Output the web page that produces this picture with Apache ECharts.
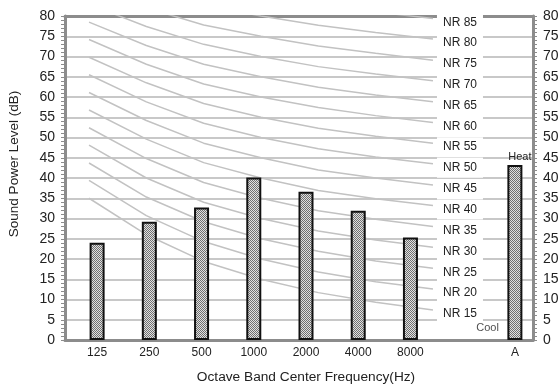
<!DOCTYPE html>
<html>
<head>
<meta charset="utf-8">
<script src="https://cdn.jsdelivr.net/npm/echarts@6/dist/echarts.min.js"></script>
<style>
  html, body { margin: 0; padding: 0; background: #fff; }
  #main { width: 558px; height: 385px; }
</style>
</head>
<body>
<div id="main"></div>
<script>
// bars
const categories = ['125', '250', '500', '1000', '2000', '4000', '8000', '', 'A'];
const barValues = [24.0, 29.2, 32.7, 40.1, 36.6, 31.9, 25.3, null, 43.2];
const yTicks = [0, 80, 5]; // min, max, step

// NR curves, values at 125..8000 Hz
const nrBands = [0, 1, 2, 3, 4, 5, 6];
const nr15 = [35.0, 26.0, 19.4, 15, 11.7, 9.3, 7.4];
const nr20 = [39.4, 30.7, 24.3, 20, 16.8, 14.4, 12.6];
const nr25 = [43.7, 35.3, 29.2, 25, 21.9, 19.5, 17.7];
const nr30 = [48.1, 40.0, 34.0, 30, 26.9, 24.7, 22.9];
const nr35 = [52.4, 44.8, 38.9, 35, 31.9, 29.8, 28.0];
const nr40 = [56.8, 49.6, 43.8, 40, 36.9, 34.9, 33.2];
const nr45 = [61.1, 54.2, 48.6, 45, 42.0, 40.0, 38.3];
const nr50 = [65.5, 58.8, 53.5, 50, 47.2, 45.2, 43.5];
const nr55 = [69.8, 63.5, 58.4, 55, 52.3, 50.3, 48.6];
const nr60 = [74.2, 68.1, 63.2, 60, 57.4, 55.4, 53.7];
const nr65 = [78.5, 72.7, 68.1, 65, 62.4, 60.5, 58.8];
const nr70 = [82.9, 77.4, 73.0, 70, 67.5, 65.7, 64.0];
const nr75 = [87.2, 82.0, 77.8, 75, 72.6, 70.8, 69.1];
const nr80 = [91.6, 86.7, 82.7, 80, 77.7, 75.9, 74.3];
const nr85 = [95.9, 91.3, 87.6, 85, 82.7, 81.0, 79.4];
const nrNames = ['NR 15', 'NR 20', 'NR 25', 'NR 30', 'NR 35', 'NR 40', 'NR 45', 'NR 50',
  'NR 55', 'NR 60', 'NR 65', 'NR 70', 'NR 75', 'NR 80', 'NR 85'];
const nrValues = [nr15, nr20, nr25, nr30, nr35, nr40, nr45, nr50, nr55, nr60, nr65, nr70, nr75, nr80, nr85];

// hatch fill for bars
function hatch() {
  const c = document.createElement('canvas');
  c.width = 4; c.height = 4;
  const g = c.getContext('2d');
  g.fillStyle = '#e0e0e0';
  g.fillRect(0, 0, 4, 4);
  g.fillStyle = '#707070';
  for (let i = 0; i < 4; i++) {
    g.fillRect(i, i % 4, 1, 1);
    g.fillRect(i, (i + 2) % 4, 1, 1);
  }
  return c;
}

const chart = echarts.init(document.getElementById('main'));
const frameColor = '#8c8c8c';
const font = 'Liberation Sans';

let series = nrNames.map(function (name, k) {
  return {
    name: name,
    type: 'line',
    xAxisIndex: 0,
    yAxisIndex: 0,
    data: nrBands.map(function (b, i) { return [b, nrValues[k][i]]; }),
    symbol: 'none',
    silent: true,
    clip: true,
    z: 2,
    lineStyle: { color: '#c2c2c2', width: 1.5 },
    endLabel: {
      show: true,
      formatter: name,
      fontFamily: font,
      fontSize: 12,
      color: '#222',
      backgroundColor: '#fff',
      padding: [4, 6, 4, 6],
      distance: 4,
      offset: [0, 4]
    }
  };
});

series.push({
  type: 'bar',
  xAxisIndex: 2,
  yAxisIndex: 2,
  barWidth: 15,
  z: 5,
  itemStyle: {
    color: { image: hatch(), repeat: 'repeat' },
    borderColor: '#111',
    borderWidth: 2
  },
  data: barValues.map(function (v, i) {
    if (categories[i] === 'A') {
      return {
        value: v,
        label: { show: true, position: 'top', formatter: 'Heat', offset: [5, 0],
          fontFamily: font, fontSize: 11, color: '#222', distance: 3 }
      };
    }
    return v;
  })
});

series.push({
  type: 'scatter',
  xAxisIndex: 2,
  yAxisIndex: 2,
  symbolSize: 0,
  silent: true,
  data: [['A', 3]],
  label: { show: true, position: 'left', distance: 16, formatter: 'Cool',
    fontFamily: font, fontSize: 11, color: '#222' }
});

const option = {
  animation: false,
  backgroundColor: '#fff',
  grid: [
    { left: 65, right: 25, top: 16, bottom: 45, outerBoundsMode: 'none', containLabel: false },
    { left: 71, right: 17, top: 16, bottom: 45, outerBoundsMode: 'none', containLabel: false }
  ],
  xAxis: [
    {
      gridIndex: 0, type: 'value', min: -0.419, max: 7.745,
      axisLine: { show: true, onZero: false, lineStyle: { color: frameColor, width: 3 } },
      axisTick: { show: false }, axisLabel: { show: false }, splitLine: { show: false }
    },
    {
      gridIndex: 0, type: 'value', position: 'top', min: -0.419, max: 7.745,
      axisLine: { show: true, onZero: false, lineStyle: { color: frameColor, width: 3 } },
      axisTick: { show: false }, axisLabel: { show: false }, splitLine: { show: false }
    },
    {
      gridIndex: 1, type: 'category', data: categories,
      axisLine: { show: false }, axisTick: { show: false },
      axisLabel: { fontFamily: font, fontSize: 12, color: '#222', margin: 7, interval: 0 },
      name: 'Octave Band Center Frequency(Hz)', nameLocation: 'middle', nameGap: 30,
      nameTextStyle: { fontFamily: font, fontSize: 13.7, color: '#222' }
    }
  ],
  yAxis: [
    {
      gridIndex: 0, type: 'value', position: 'left',
      min: yTicks[0], max: yTicks[1], interval: yTicks[2],
      axisLine: { show: true, onZero: false, lineStyle: { color: frameColor, width: 3 } },
      axisTick: { show: true, length: 4, lineStyle: { color: frameColor } },
      minorTick: { show: true, splitNumber: 5, length: 4, lineStyle: { color: frameColor } },
      axisLabel: { fontFamily: font, fontSize: 14, color: '#222', margin: 10 },
      splitLine: { show: true, lineStyle: { color: '#c8c8c8', width: 2 } },
      name: 'Sound Power Level (dB)', nameLocation: 'middle', nameGap: 44,
      nameTextStyle: { fontFamily: font, fontSize: 13.5, color: '#222', padding: [0, 0, 0, 28] }
    },
    {
      gridIndex: 0, type: 'value', position: 'right',
      min: yTicks[0], max: yTicks[1], interval: yTicks[2],
      axisLine: { show: true, onZero: false, lineStyle: { color: frameColor, width: 3 } },
      axisTick: { show: true, length: 4, lineStyle: { color: frameColor } },
      minorTick: { show: true, splitNumber: 5, length: 4, lineStyle: { color: frameColor } },
      axisLabel: { fontFamily: font, fontSize: 14, color: '#222', margin: 10 },
      splitLine: { show: false }
    },
    {
      gridIndex: 1, type: 'value', min: yTicks[0], max: yTicks[1], show: false
    }
  ],
  series: series
};

chart.setOption(option);
</script>
</body>
</html>
